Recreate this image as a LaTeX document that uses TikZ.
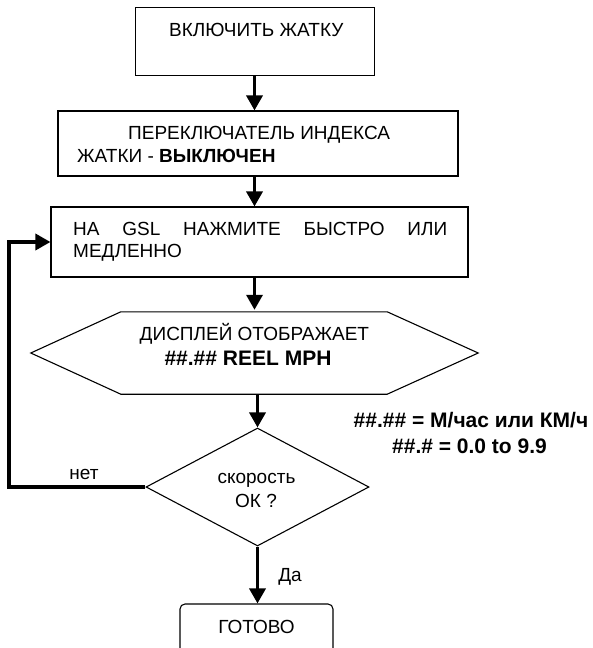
\documentclass[tikz,border=0pt]{standalone}
\usepackage{fontspec}
\setmainfont{Liberation Sans}
\usetikzlibrary{arrows.meta,shapes.geometric}
\tikzset{
  thinbox/.style={draw, line width=1.1pt, inner sep=0pt},
  txt/.style={inner sep=0pt, font=\fontsize{19}{23}\selectfont},
  bigbold/.style={inner sep=0pt, font=\fontsize{21}{25}\selectfont\bfseries},
  flow/.style={line width=3.4pt, -{Triangle[length=15pt,width=16pt]}}
}
\begin{document}
\begin{tikzpicture}[x=1pt,y=1pt]
\useasboundingbox (0,0) rectangle (593,-648);
\clip (0,0) rectangle (593,-648);
% boxes
\node[thinbox, minimum width=239pt, minimum height=68pt] (box1) at (255,-41.2) {};
\node[thinbox, minimum width=400pt, minimum height=65pt] (box2) at (258,-143.5) {};
\node[thinbox, minimum width=417pt, minimum height=70pt] (box3) at (259.5,-242) {};
% hexagon
\node[minimum width=447pt, minimum height=82pt, inner sep=0pt] (hex) at (254.5,-353) {};
\draw[line width=1.1pt] (hex.west) -- ([xshift=90pt]hex.north west) -- ([xshift=-91pt]hex.north east)
  -- (hex.east) -- ([xshift=-91pt]hex.south east) -- ([xshift=90pt]hex.south west) -- cycle;
% decision
\node[thinbox, diamond, minimum width=223pt, minimum height=118pt] (dia) at (257.5,-487) {};
% end box
\node[thinbox, rounded corners=5pt, minimum width=153pt, minimum height=60pt] (done) at (256.5,-634) {};
% texts
\node[txt, anchor=base west] (t1) at (169,-36.5) {ВКЛЮЧИТЬ ЖАТКУ};
\node[txt, anchor=base west] (t2a) at (128,-139.3) {ПЕРЕКЛЮЧАТЕЛЬ ИНДЕКСА};
\node[txt, anchor=base west] (t2b) at (77,-162.7) {ЖАТКИ - \textbf{ВЫКЛЮЧЕН}};
\node[txt, anchor=base west] (t3a) at (73,-235) {\makebox[374pt][s]{НА GSL НАЖМИТЕ БЫСТРО ИЛИ}};
\node[txt, anchor=base west] (t3b) at (73,-257) {МЕДЛЕННО};
\node[txt, anchor=base] (t4a) at (254.4,-340.7) {ДИСПЛЕЙ ОТОБРАЖАЕТ};
\node[bigbold, anchor=base] (t4b) at (248,-365) {\#\#.\#\# REEL MPH};
\node[txt, anchor=base] (t5a) at (256.5,-483) {скорость};
\node[txt, anchor=base] (t5b) at (256,-507) {ОК ?};
\node[txt, anchor=base] (tno) at (84,-479) {нет};
\node[txt, anchor=base] (tyes) at (290,-581) {Да};
\node[txt, anchor=base] (t6) at (256.5,-633.3) {ГОТОВО};
\node[bigbold, anchor=base] (n1) at (471,-427) {\#\#.\#\# = М/час или КМ/ч};
\node[bigbold, anchor=base] (n2) at (469.5,-453) {\#\#.\# = 0.0 to 9.9};
% connectors
\coordinate (c1) at (254.5,-41.5);
\draw[flow] (c1 |- box1.south) -- (c1 |- box2.north);
\draw[flow] (c1 |- box2.south) -- (c1 |- box3.north);
\draw[flow] (c1 |- box3.south) -- ([yshift=2pt]c1 |- hex.north);
\draw[flow] (dia.north |- hex.south) -- (dia.north);
\draw[flow] (dia.south) -- (dia.south |- done.north);
\coordinate (fb) at (9,-487);
\draw[flow] (dia.west) -- (fb) |- (box3.west);
\end{tikzpicture}
\end{document}
